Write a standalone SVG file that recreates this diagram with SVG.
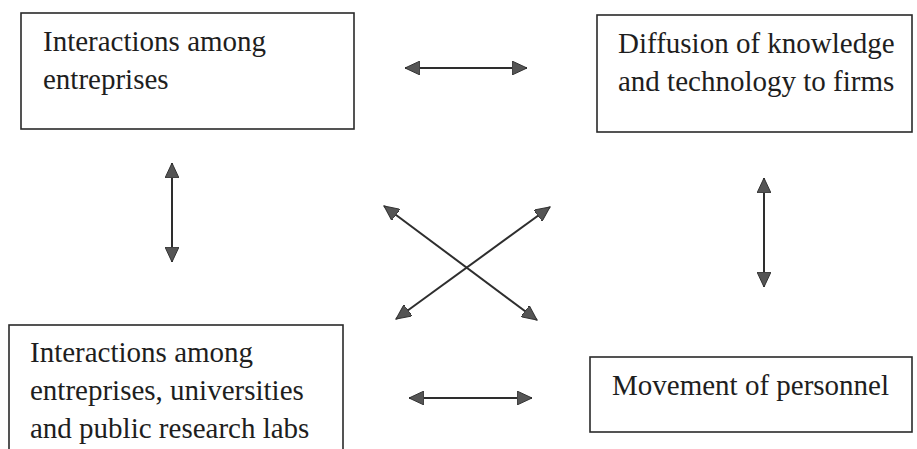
<svg xmlns="http://www.w3.org/2000/svg" width="917" height="449" viewBox="0 0 917 449">
<style>
.box{fill:#fff;stroke:#2a2a2a;stroke-width:1.6}
.t{font-family:"Liberation Serif","Times New Roman",serif;font-size:29px;fill:#1e1e1e}
.c{stroke:#2e2e2e;stroke-width:2;fill:none;marker-start:url(#ah);marker-end:url(#ah)}
</style>
<defs>
<marker id="ah" markerUnits="userSpaceOnUse" markerWidth="16" markerHeight="14" refX="15" refY="7" orient="auto-start-reverse" viewBox="0 0 16 14">
<path d="M0,0 L15,7 L0,14 z" fill="#555" stroke="#333" stroke-width="1"/>
</marker>
</defs>
<rect width="917" height="449" fill="#fff"/>
<g id="n1">
<rect class="box" x="21" y="13" width="333" height="116"/>
<text class="t" x="43" y="51">Interactions among</text>
<text class="t" x="43" y="89">entreprises</text>
</g>
<g id="n2">
<rect class="box" x="597" y="15" width="315" height="117"/>
<text class="t" x="618" y="53">Diffusion of knowledge</text>
<text class="t" x="618" y="91">and technology to firms</text>
</g>
<g id="n3">
<rect class="box" x="9" y="325" width="334" height="140"/>
<text class="t" x="30" y="362">Interactions among</text>
<text class="t" x="30" y="400">entreprises, universities</text>
<text class="t" x="30" y="438">and public research labs</text>
</g>
<g id="n4">
<rect class="box" x="590" y="357" width="322" height="75"/>
<text class="t" x="612" y="395">Movement of personnel</text>
</g>
<g id="connectors">
<line class="c" x1="405" y1="68" x2="527" y2="68"/>
<line class="c" x1="409" y1="398" x2="532" y2="398"/>
<line class="c" x1="172" y1="163" x2="172" y2="262"/>
<line class="c" x1="764" y1="178" x2="764" y2="287"/>
<line class="c" x1="384" y1="206" x2="537" y2="320"/>
<line class="c" x1="550" y1="207" x2="396" y2="319"/>
</g>
</svg>
